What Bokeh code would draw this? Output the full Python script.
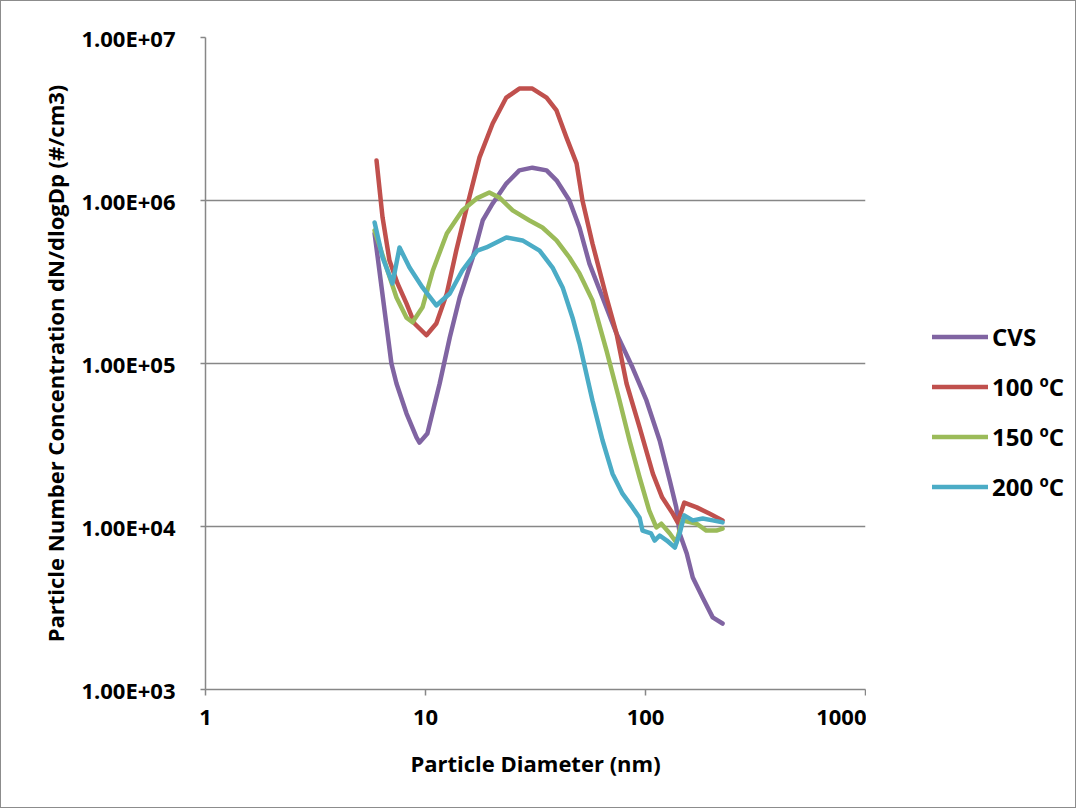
from bokeh.plotting import figure
from bokeh.layouts import row
from bokeh.models import FixedTicker, Legend, LegendItem, Range1d
from bokeh.embed import file_html
from bokeh.resources import INLINE

# ---- data ----
x_ticks = [1, 10, 100, 1000]
x_tick_labels = ["1", "10", "100", "1000"]
y_ticks = [1e3, 1e4, 1e5, 1e6, 1e7]
y_tick_labels = ["1.00E+03", "1.00E+04", "1.00E+05", "1.00E+06", "1.00E+07"]

series_names = ["CVS", "100 ºC", "150 ºC", "200 ºC"]
series_colors = ["#8064A2", "#C0504D", "#9BBB59", "#4BACC6"]

cvs_dp = [5.87, 7.0, 7.38, 8.2, 9.1, 9.39, 10.2, 11.6, 12.9, 14.3, 16.4, 18.2, 20.2,
          23.3, 26.7, 30.6, 35.5, 39.4, 45.1, 50.1, 55.6, 63.8, 73.8, 87.3, 101,
          116, 129, 138, 143, 154, 164, 182, 202, 224]
cvs_n = [6.28e5, 1.0e5, 7.54e4, 4.93e4, 3.52e4, 3.27e4, 3.72e4, 7.54e4, 1.45e5, 2.54e5,
         4.47e5, 7.54e5, 9.59e5, 1.27e6, 1.53e6, 1.59e6, 1.53e6, 1.33e6, 1.0e6, 6.83e5,
         4.10e5, 2.54e5, 1.53e5, 9.45e4, 5.93e4, 3.37e4, 1.91e4, 1.31e4, 9.06e3, 6.83e3,
         4.86e3, 3.66e3, 2.77e3, 2.54e3]

t100_dp = [5.99, 6.38, 6.86, 7.46, 8.2, 8.91, 10.1, 11.2, 12.5, 13.8, 15.4, 17.6, 20.2,
           23.3, 26.7, 30.6, 35.5, 39.4, 43.7, 48.6, 51.7, 57.4, 66.5, 73.8, 82, 94,
           108, 119, 133, 140, 150, 171, 195, 224]
t100_n = [1.76e6, 7.87e5, 4.28e5, 3.10e5, 2.33e5, 1.76e5, 1.49e5, 1.76e5, 2.69e5, 4.93e5,
          9.06e5, 1.84e6, 2.97e6, 4.28e6, 4.86e6, 4.86e6, 4.28e6, 3.57e6, 2.44e6, 1.69e6,
          1.0e6, 5.45e5, 2.54e5, 1.53e5, 7.54e4, 4.05e4, 2.11e4, 1.51e4, 1.20e4, 1.06e4,
          1.40e4, 1.31e4, 1.20e4, 1.09e4]

t150_dp = [5.87, 6.65, 7.38, 8.2, 8.73, 9.69, 10.8, 12.5, 14.7, 17.1, 19.5, 21.7, 24.9,
           29.7, 34.0, 39.4, 45.1, 50.1, 57.4, 66.5, 76.2, 84.6, 94, 104, 112, 118, 129,
           138, 147, 171, 189, 210, 224]
t150_n = [6.55e5, 3.88e5, 2.54e5, 1.91e5, 1.79e5, 2.21e5, 3.72e5, 6.28e5, 8.69e5, 1.03e6,
          1.12e6, 1.04e6, 8.69e5, 7.54e5, 6.83e5, 5.69e5, 4.47e5, 3.57e5, 2.44e5, 1.20e5,
          5.93e4, 3.37e4, 2.0e4, 1.25e4, 9.86e3, 1.04e4, 9.06e3, 7.98e3, 1.09e4, 1.04e4,
          9.44e3, 9.44e3, 9.72e3]

t200_dp = [5.87, 6.38, 7.08, 7.62, 8.46, 9.69, 11.2, 12.9, 14.7, 17.2, 18.9, 23.3, 27.6,
           33.0, 37.8, 42, 46.6, 50.1, 57.4, 63.8, 70.8, 78.6, 87.3, 94, 96.9, 106, 110,
           116, 125, 136, 143, 150, 164, 182, 202, 224]
t200_n = [7.33e5, 4.47e5, 3.10e5, 5.15e5, 3.88e5, 2.93e5, 2.27e5, 2.69e5, 3.72e5, 4.93e5,
          5.15e5, 5.93e5, 5.69e5, 4.93e5, 3.88e5, 2.93e5, 1.91e5, 1.33e5, 5.93e4, 3.37e4,
          2.11e4, 1.59e4, 1.31e4, 1.13e4, 9.44e3, 9.06e3, 8.20e3, 8.81e3, 8.20e3, 7.43e3,
          9.06e3, 1.17e4, 1.09e4, 1.12e4, 1.09e4, 1.06e4]

series = [(cvs_dp, cvs_n), (t100_dp, t100_n), (t150_dp, t150_n), (t200_dp, t200_n)]

# ---- main chart ----
GRAY = "#878787"
BORDER = "1px solid #8c8c8c"
FONT = "Open Sans"
H = 808

p = figure(width=866, height=H, x_axis_type="log", y_axis_type="log",
           x_range=Range1d(1, 1000), y_range=Range1d(1e3, 1e7),
           output_backend="svg", toolbar_location=None,
           min_border_left=204, min_border_right=2,
           min_border_top=36, min_border_bottom=120)
p.outline_line_color = None
p.background_fill_color = "white"
p.border_fill_color = "white"
p.styles = {"border-left": BORDER, "border-top": BORDER, "border-bottom": BORDER,
            "box-sizing": "border-box"}

p.xaxis.ticker = FixedTicker(ticks=x_ticks, minor_ticks=[])
p.yaxis.ticker = FixedTicker(ticks=y_ticks, minor_ticks=[])
p.xaxis.major_label_overrides = {float(t): l for t, l in zip(x_ticks, x_tick_labels)}
p.yaxis.major_label_overrides = {float(t): l for t, l in zip(y_ticks, y_tick_labels)}

for ax in (p.xaxis, p.yaxis):
    ax.axis_line_color = GRAY
    ax.axis_line_width = 1.5
    ax.major_tick_line_color = GRAY
    ax.major_tick_line_width = 1.5
    ax.major_tick_in = 0
    ax.minor_tick_line_color = None
    ax.major_label_text_font = FONT
    ax.major_label_text_font_style = "bold"
    ax.major_label_text_font_size = "22px"
    ax.major_label_text_color = "black"
    ax.axis_label_text_font = FONT
    ax.axis_label_text_font_style = "bold"
    ax.axis_label_text_font_size = "22px"
    ax.axis_label_text_color = "black"

p.xaxis.major_tick_out = 6
p.xaxis.major_label_standoff = 14
p.xaxis.axis_label = "Particle Diameter (nm)"
p.xaxis.axis_label_standoff = 20

p.yaxis.major_tick_out = 5
p.yaxis.major_label_standoff = 25
p.yaxis.axis_label = "Particle Number Concentration dN/dlogDp (#/cm3)"
p.yaxis.axis_label_standoff = 8

p.xgrid.grid_line_color = None
p.ygrid.grid_line_color = GRAY
p.ygrid.grid_line_width = 1.5

for color, (dp, n) in zip(series_colors, series):
    p.line(dp, n, line_color=color, line_width=4.5, line_join="round", line_cap="round")

# ---- legend panel (to the right of the plot area) ----
q = figure(width=210, height=H, x_axis_type="log", y_axis_type="log",
           x_range=Range1d(1e6, 1e7), y_range=Range1d(1e9, 1e10),
           x_axis_location=None, y_axis_location=None,
           output_backend="svg", toolbar_location=None,
           min_border=0)
q.outline_line_color = None
q.xgrid.visible = False
q.ygrid.visible = False
q.border_fill_color = "white"
q.background_fill_color = "white"
q.styles = {"border-right": BORDER, "border-top": BORDER, "border-bottom": BORDER,
            "box-sizing": "border-box"}

items = []
for name, color, (dp, n) in zip(series_names, series_colors, series):
    r = q.line(dp, n, line_color=color, line_width=4.5, line_cap="round")
    items.append(LegendItem(label=name, renderers=[r]))

legend = Legend(items=items, location=(66, 186), orientation="vertical",
                label_text_font=FONT, label_text_font_style="bold",
                label_text_font_size="24px", label_text_color="black",
                label_height=33, glyph_height=33, glyph_width=56,
                label_standoff=4, spacing=17, padding=0, margin=0,
                border_line_color=None, background_fill_alpha=0)
q.add_layout(legend)

layout = row(p, q)
open("out.html", "w").write(file_html(layout, INLINE))
